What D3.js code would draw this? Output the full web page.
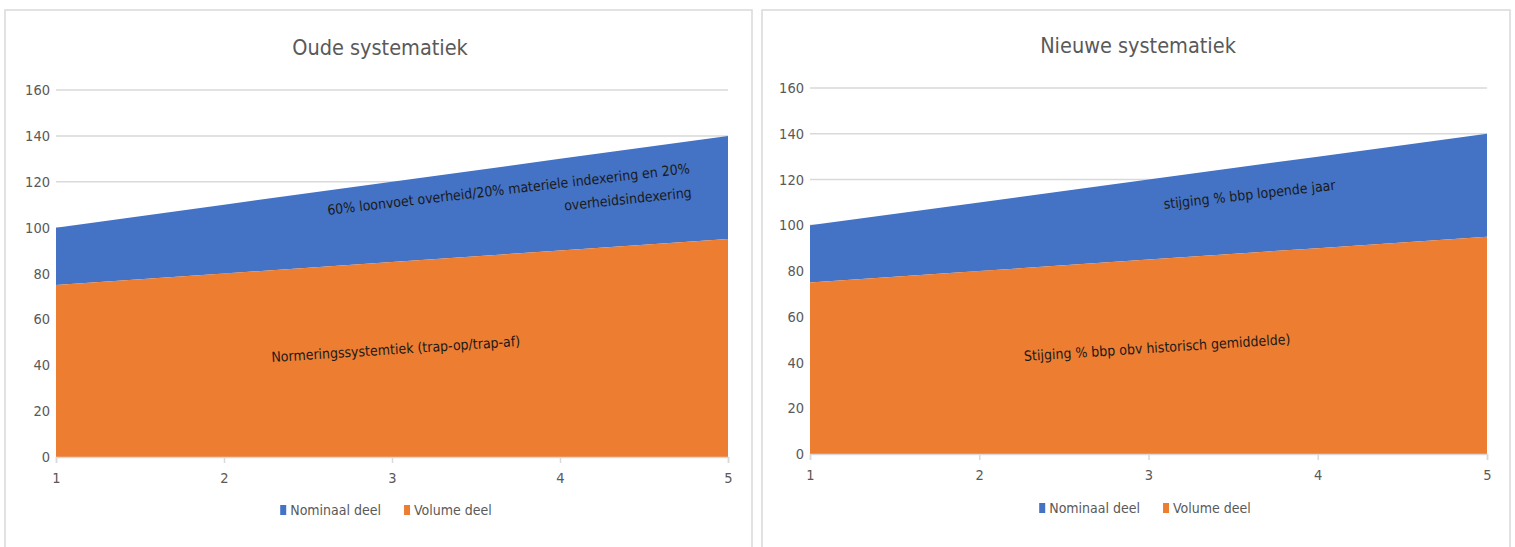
<!DOCTYPE html>
<html>
<head>
<meta charset="utf-8">
<script src="https://cdn.jsdelivr.net/npm/d3@7"></script>
<style>
  html, body { margin: 0; padding: 0; background: #fff; }
  svg { display: block; }
  text { font-family: "DejaVu Sans Condensed", "Liberation Sans Narrow", sans-serif; }
</style>
</head>
<body>
<svg id="chart" width="1515" height="547"></svg>
<script>
// ---- data ----
const xValues = [1, 2, 3, 4, 5];
const yTicks = [0, 20, 40, 60, 80, 100, 120, 140, 160];
const seriesNames = ["Nominaal deel", "Volume deel"];
const seriesColors = ["#4472C4", "#ED7D31"];

const oudeVolume   = [75, 80, 85, 90, 95];
const oudeNominaal = [25, 30, 35, 40, 45];
const nieuweVolume   = [75, 80, 85, 90, 95];
const nieuweNominaal = [25, 30, 35, 40, 45];

const oudeTitle = "Oude systematiek";
const nieuweTitle = "Nieuwe systematiek";

// annotations: [text, x, y (data), rotation, anchor]
const oudeNotes = [
  ["60% loonvoet overheid/20% materiele indexering en 20%", 4.774, 123.8, -6.6, "end"],
  ["overheidsindexering", 4.786, 113.3, -6.0, "end"],
  ["Normeringssystemtiek (trap-op/trap-af)", 3.024, 44.9, -3.7, "middle"]
];
const nieuweNotes = [
  ["stijging % bbp lopende jaar", 3.6, 111.3, -6.4, "middle"],
  ["Stijging % bbp obv historisch gemiddelde)", 3.053, 44.4, -3.7, "middle"]
];

const svg = d3.select("#chart");

function drawPanel(cfg) {
  const g = svg.append("g");
  // panel frame
  g.append("path")
    .attr("d", `M${cfg.frame[0]},${cfg.frame[3]} V${cfg.frame[1]} H${cfg.frame[2]} V${cfg.frame[3]}`)
    .attr("fill", "none").attr("stroke", "#d9d9d9").attr("stroke-width", 1.5);

  const x = d3.scaleLinear().domain([1, 5]).range([cfg.left, cfg.right]);
  const y = d3.scaleLinear().domain([0, 160]).range([cfg.bottom, cfg.top]);

  // gridlines
  g.append("g").selectAll("line").data(yTicks.filter(d => d > 0)).join("line")
    .attr("x1", cfg.left).attr("x2", cfg.right)
    .attr("y1", d => y(d)).attr("y2", d => y(d))
    .attr("stroke", "#d9d9d9").attr("stroke-width", 1.5);

  // stacked data
  const rows = xValues.map((xv, i) => ({ x: xv, vol: cfg.volume[i], nom: cfg.nominaal[i] }));
  const stack = d3.stack().keys(["vol", "nom"])(rows);
  const area = d3.area().x(d => x(d.data.x)).y0(d => y(d[0])).y1(d => y(d[1]));
  g.append("path").datum(stack[1]).attr("d", area).attr("fill", seriesColors[0]);
  g.append("path").datum(stack[0]).attr("d", area).attr("fill", seriesColors[1]);

  // y axis labels
  g.append("g").selectAll("text").data(yTicks).join("text")
    .attr("x", cfg.left - 6).attr("y", d => y(d)).attr("dy", "0.35em")
    .attr("text-anchor", "end").attr("fill", "#595959").attr("font-size", 14.5)
    .text(d => d);

  // x axis
  const xAxis = d3.axisBottom(x).tickValues(xValues).tickSize(6).tickPadding(10).tickFormat(d3.format("d"));
  const ax = g.append("g").attr("transform", `translate(0,${cfg.bottom})`).call(xAxis);
  ax.select(".domain").attr("stroke", "#d9d9d9").attr("stroke-width", 1.5);
  ax.selectAll(".tick line").attr("stroke", "#d9d9d9").attr("stroke-width", 1.5);
  ax.selectAll(".tick text").attr("fill", "#595959").attr("font-size", 14.5)
    .style("font-family", '"DejaVu Sans Condensed", "Liberation Sans Narrow", sans-serif');

  // title
  g.append("text").attr("x", cfg.titleX).attr("y", cfg.titleY)
    .attr("text-anchor", "middle").attr("fill", "#595959").attr("font-size", 21.5)
    .text(cfg.title);

  // annotations
  cfg.notes.forEach(n => {
    g.append("text")
      .attr("transform", `translate(${x(n[1])},${y(n[2])}) rotate(${n[3]})`)
      .attr("text-anchor", n[4]).attr("fill", "#1a1a1a").attr("font-size", 14)
      .text(n[0]);
  });

  // legend
  const lg = g.append("g");
  let cx = 0;
  seriesNames.forEach((name, i) => {
    lg.append("rect").attr("x", cx).attr("y", -10).attr("width", 6).attr("height", 10)
      .attr("fill", seriesColors[i]);
    const t = lg.append("text").attr("x", cx + 10).attr("y", 0)
      .attr("fill", "#595959").attr("font-size", 14).text(name);
    cx += 10 + t.node().getComputedTextLength() + 23;
  });
  const lw = cx - 23;
  lg.attr("transform", `translate(${cfg.legendCenter - lw / 2},${cfg.legendY})`);
}

drawPanel({
  frame: [5, 10, 752, 560],
  left: 56, right: 728, top: 90, bottom: 457,
  volume: oudeVolume, nominaal: oudeNominaal,
  title: oudeTitle, titleX: 380, titleY: 55,
  notes: oudeNotes, legendCenter: 386, legendY: 515
});
drawPanel({
  frame: [762, 10, 1510, 560],
  left: 810, right: 1487, top: 88, bottom: 454,
  volume: nieuweVolume, nominaal: nieuweNominaal,
  title: nieuweTitle, titleX: 1138, titleY: 53,
  notes: nieuweNotes, legendCenter: 1145, legendY: 513
});
</script>
</body>
</html>
